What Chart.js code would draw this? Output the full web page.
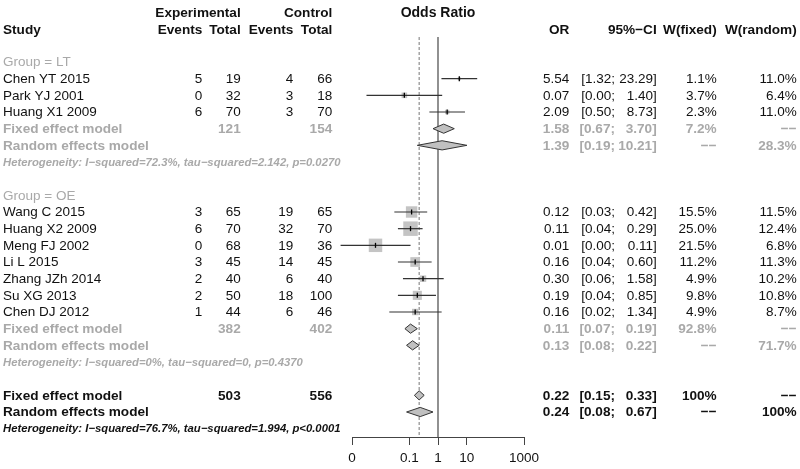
<!DOCTYPE html>
<html><head><meta charset="utf-8">
<script src="https://cdn.jsdelivr.net/npm/chart.js@4.4.1/dist/chart.umd.min.js"></script>
<style>html,body{margin:0;padding:0;background:#fff;}#wrap{width:800px;height:469px;position:relative;}</style>
</head><body><div id="wrap"><canvas id="c"></canvas></div>
<script>
// ---------- data ----------
const studies    = ["Chen YT 2015","Park YJ 2001","Huang X1 2009","Wang C 2015","Huang X2 2009","Meng FJ 2002","Li L 2015","Zhang JZh 2014","Su XG 2013","Chen DJ 2012"];
const studyGroup = ["LT","LT","LT","OE","OE","OE","OE","OE","OE","OE"];
const expEvents  = [5,0,6,3,6,0,3,2,2,1];
const expTotal   = [19,32,70,65,70,68,45,40,50,44];
const ctrlEvents = [4,3,3,19,32,19,14,6,18,6];
const ctrlTotal  = [66,18,70,65,70,36,45,40,100,46];
const orEst      = [5.54,0.067,2.09,0.12,0.11,0.0066,0.16,0.30,0.19,0.16];
const ciLow      = [1.32,0.0032,0.50,0.03,0.04,0.0004,0.04,0.06,0.04,0.02];
const ciHigh     = [23.29,1.40,8.73,0.42,0.29,0.11,0.60,1.58,0.85,1.34];
const wFixed     = [1.1,3.7,2.3,15.5,25.0,21.5,11.2,4.9,9.8,4.9];
const wRandom    = [11.0,6.4,11.0,11.5,12.4,6.8,11.3,10.2,10.8,8.7];

const groupNames      = ["LT","OE"];
const groupExpTotal   = [121,382];
const groupCtrlTotal  = [154,402];
const groupFixedOR    = [1.58,0.11];
const groupFixedLow   = [0.67,0.07];
const groupFixedHigh  = [3.70,0.19];
const groupFixedW     = [7.2,92.8];
const groupRandomOR   = [1.39,0.13];
const groupRandomLow  = [0.19,0.08];
const groupRandomHigh = [10.21,0.22];
const groupRandomW    = [28.3,71.7];
const groupHet = ["Heterogeneity: I\u2212squared=72.3%, tau\u2212squared=2.142, p=0.0270",
                  "Heterogeneity: I\u2212squared=0%, tau\u2212squared=0, p=0.4370"];

const overallExpTotal  = 503;
const overallCtrlTotal = 556;
const overallFixed  = [0.22,0.15,0.33];   // OR, low, high
const overallRandom = [0.24,0.08,0.67];
const overallHet = "Heterogeneity: I\u2212squared=76.7%, tau\u2212squared=1.994, p<0.0001";

const xTickValues = [0.001,0.1,1,10,1000];
const xTickLabels = ["0","0.1","1","10","1000"];

// ---------- layout of rows ----------
const FONT = '"Liberation Sans", Arial, Helvetica, sans-serif';
const BLACK = '#111', GRAY = '#a9a9a9';
const studyRow = [];
const groupRows = [];
let r = 0;
groupNames.forEach((g, gi) => {
  const gr = {header: r++};
  studies.forEach((s, i) => { if (studyGroup[i] === g) studyRow[i] = r++; });
  gr.fixed = r++; gr.random = r++; gr.het = r++; r++;
  groupRows.push(gr);
});
const overallRows = {fixed: r, random: r + 1, het: r + 2};

const fmt2 = v => v.toFixed(2);
const fmtW = v => v == null ? '\u2212\u2212' : (v === 100 ? '100%' : v.toFixed(1) + '%');
const boxSide = w => 2.9 * Math.sqrt(w);

const COL = {study:3, expEv:202.3, expTot:240.7, ctrlEv:293.3, ctrlTot:332.3,
             or:569.3, ciMid:615, ci:656.7, wf:716.7, wr:796.7};

const forestPlugin = {
  id: 'forest',
  beforeDatasetsDraw(chart) {
    const {ctx, chartArea, scales:{x, y}} = chart;
    ctx.save();
    ctx.strokeStyle = '#555'; ctx.lineWidth = 1.3;
    ctx.beginPath(); ctx.moveTo(x.getPixelForValue(1), chartArea.top); ctx.lineTo(x.getPixelForValue(1), chartArea.bottom); ctx.stroke();
    ctx.strokeStyle = '#777'; ctx.lineWidth = 1; ctx.setLineDash([3,2]);
    const xf = x.getPixelForValue(overallFixed[0]);
    ctx.beginPath(); ctx.moveTo(xf, chartArea.top); ctx.lineTo(xf, chartArea.bottom); ctx.stroke();
    ctx.restore();
  },
  afterDatasetsDraw(chart) {
    const {ctx, scales:{x, y}} = chart;
    ctx.save();
    studies.forEach((s, i) => {
      const yy = y.getPixelForValue(studyRow[i]);
      ctx.strokeStyle = '#333'; ctx.lineWidth = 1.2;
      ctx.beginPath(); ctx.moveTo(x.getPixelForValue(ciLow[i]), yy); ctx.lineTo(x.getPixelForValue(ciHigh[i]), yy); ctx.stroke();
      const xe = x.getPixelForValue(orEst[i]);
      ctx.strokeStyle = '#000'; ctx.lineWidth = 1.3;
      ctx.beginPath(); ctx.moveTo(xe, yy - 2.5); ctx.lineTo(xe, yy + 2.5); ctx.stroke();
    });
    const diamond = (est, lo, hi, row) => {
      const yy = y.getPixelForValue(row), h = 4.6;
      ctx.beginPath();
      ctx.moveTo(x.getPixelForValue(lo), yy);
      ctx.lineTo(x.getPixelForValue(est), yy - h);
      ctx.lineTo(x.getPixelForValue(hi), yy);
      ctx.lineTo(x.getPixelForValue(est), yy + h);
      ctx.closePath();
      ctx.fillStyle = '#c0c0c0'; ctx.fill();
      ctx.strokeStyle = '#333'; ctx.lineWidth = 1; ctx.stroke();
    };
    groupNames.forEach((g, gi) => {
      diamond(groupFixedOR[gi], groupFixedLow[gi], groupFixedHigh[gi], groupRows[gi].fixed);
      diamond(groupRandomOR[gi], groupRandomLow[gi], groupRandomHigh[gi], groupRows[gi].random);
    });
    diamond(overallFixed[0], overallFixed[1], overallFixed[2], overallRows.fixed);
    diamond(overallRandom[0], overallRandom[1], overallRandom[2], overallRows.random);

    const T = (str, xx, row, align, style, color) => {
      ctx.font = style; ctx.fillStyle = color; ctx.textAlign = align; ctx.textBaseline = 'middle';
      ctx.fillText(String(str), xx, y.getPixelForValue(row) + 0.5);
    };
    const REG = '13.5px ' + FONT, BOLD = 'bold 13.6px ' + FONT, HET = 'italic bold 11.3px ' + FONT;
    T('Experimental', COL.expTot, -2.93, 'right', BOLD, BLACK);
    T('Control', COL.ctrlTot, -2.93, 'right', BOLD, BLACK);
    T('Odds Ratio', x.getPixelForValue(1), -2.97, 'center', 'bold 14px ' + FONT, BLACK);
    T('Study', COL.study, -1.92, 'left', BOLD, BLACK);
    T('Events', COL.expEv, -1.92, 'right', BOLD, BLACK);
    T('Total', COL.expTot, -1.92, 'right', BOLD, BLACK);
    T('Events', COL.ctrlEv, -1.92, 'right', BOLD, BLACK);
    T('Total', COL.ctrlTot, -1.92, 'right', BOLD, BLACK);
    T('OR', COL.or, -1.92, 'right', BOLD, BLACK);
    T('95%\u2212CI', COL.ci, -1.92, 'right', BOLD, BLACK);
    T('W(fixed)', COL.wf, -1.92, 'right', BOLD, BLACK);
    T('W(random)', COL.wr, -1.92, 'right', BOLD, BLACK);

    const rightCols = (est, lo, hi, wf, wr, row, style, color) => {
      T(fmt2(est), COL.or, row, 'right', style, color);
      T('[' + fmt2(lo) + ';', COL.ciMid, row, 'right', style, color);
      T(fmt2(hi) + ']', COL.ci, row, 'right', style, color);
      T(fmtW(wf), COL.wf, row, 'right', style, color);
      T(fmtW(wr), COL.wr, row, 'right', style, color);
    };
    studies.forEach((s, i) => {
      const row = studyRow[i];
      T(s, COL.study, row, 'left', REG, BLACK);
      T(expEvents[i], COL.expEv, row, 'right', REG, BLACK);
      T(expTotal[i], COL.expTot, row, 'right', REG, BLACK);
      T(ctrlEvents[i], COL.ctrlEv, row, 'right', REG, BLACK);
      T(ctrlTotal[i], COL.ctrlTot, row, 'right', REG, BLACK);
      rightCols(orEst[i], ciLow[i], ciHigh[i], wFixed[i], wRandom[i], row, REG, BLACK);
    });
    groupNames.forEach((g, gi) => {
      const gr = groupRows[gi];
      T('Group = ' + g, COL.study, gr.header, 'left', REG, GRAY);
      T('Fixed effect model', COL.study, gr.fixed, 'left', BOLD, GRAY);
      T(groupExpTotal[gi], COL.expTot, gr.fixed, 'right', BOLD, GRAY);
      T(groupCtrlTotal[gi], COL.ctrlTot, gr.fixed, 'right', BOLD, GRAY);
      rightCols(groupFixedOR[gi], groupFixedLow[gi], groupFixedHigh[gi], groupFixedW[gi], null, gr.fixed, BOLD, GRAY);
      T('Random effects model', COL.study, gr.random, 'left', BOLD, GRAY);
      rightCols(groupRandomOR[gi], groupRandomLow[gi], groupRandomHigh[gi], null, groupRandomW[gi], gr.random, BOLD, GRAY);
      T(groupHet[gi], COL.study, gr.het, 'left', HET, GRAY);
    });
    T('Fixed effect model', COL.study, overallRows.fixed, 'left', BOLD, BLACK);
    T(overallExpTotal, COL.expTot, overallRows.fixed, 'right', BOLD, BLACK);
    T(overallCtrlTotal, COL.ctrlTot, overallRows.fixed, 'right', BOLD, BLACK);
    rightCols(overallFixed[0], overallFixed[1], overallFixed[2], 100, null, overallRows.fixed, BOLD, BLACK);
    T('Random effects model', COL.study, overallRows.random, 'left', BOLD, BLACK);
    rightCols(overallRandom[0], overallRandom[1], overallRandom[2], null, 100, overallRows.random, BOLD, BLACK);
    T(overallHet, COL.study, overallRows.het, 'left', HET, BLACK);
    ctx.restore();
  }
};

new Chart(document.getElementById('c'), {
  type: 'scatter',
  data: {
    datasets: [{
      data: studies.map((s, i) => ({x: orEst[i], y: studyRow[i]})),
      pointStyle: 'rect',
      pointRadius: ctx => boxSide(wFixed[ctx.dataIndex]) / Math.SQRT2,
      pointHoverRadius: ctx => boxSide(wFixed[ctx.dataIndex]) / Math.SQRT2,
      backgroundColor: '#c4c4c4',
      borderWidth: 0,
      clip: false
    }]
  },
  options: {
    responsive: true,
    maintainAspectRatio: false,
    animation: false,
    events: [],
    layout: {padding: {left: 352, right: 276, top: 37, bottom: 0}},
    plugins: {legend: {display: false}, tooltip: {enabled: false}},
    scales: {
      x: {
        type: 'logarithmic', min: 0.001, max: 1000, position: 'bottom',
        afterBuildTicks: s => { s.ticks = xTickValues.map(v => ({value: v})); },
        afterFit: s => { s.height = 32; },
        ticks: {autoSkip: false, maxRotation: 0, padding: 5, color: BLACK,
                font: {family: FONT, size: 13.5},
                callback: (v, i) => xTickLabels[i]},
        grid: {drawOnChartArea: false, drawTicks: true, tickLength: 8, color: '#444', lineWidth: 1},
        border: {display: true, color: '#444', width: 1}
      },
      y: {type: 'linear', min: -1.5, max: 22.5, reverse: true, display: false}
    }
  },
  plugins: [forestPlugin]
});
</script>
</body></html>
